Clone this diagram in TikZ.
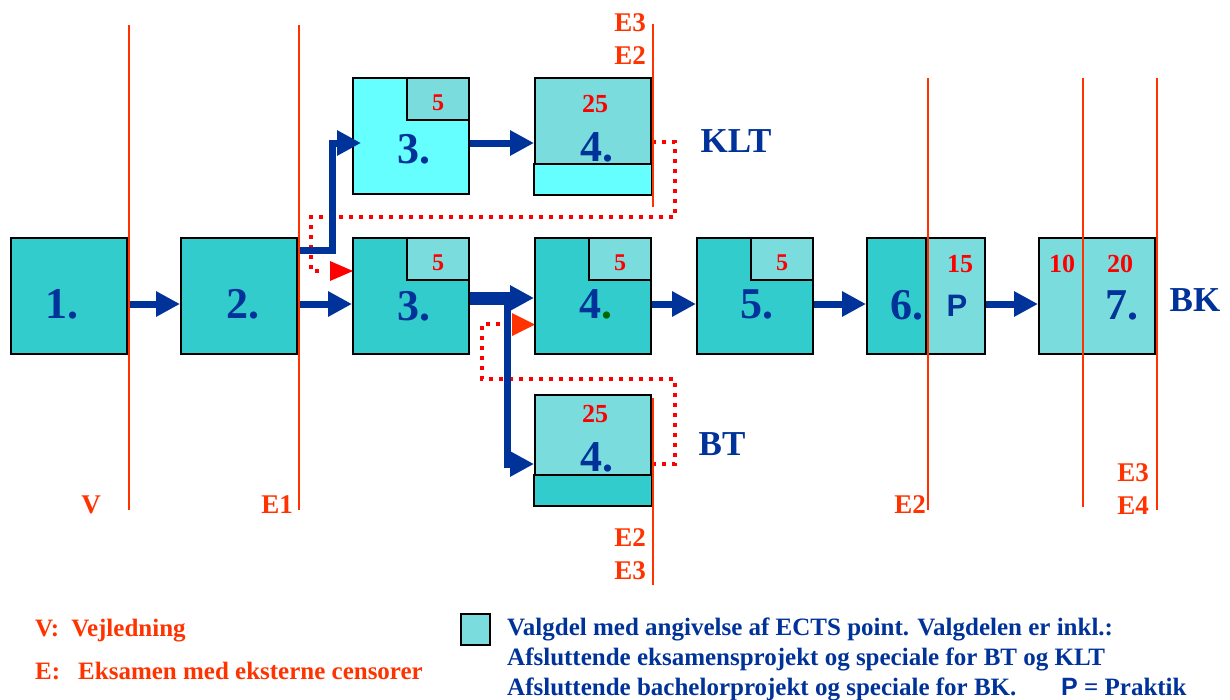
\documentclass[tikz,border=0pt]{standalone}
\usepackage{fontspec}
\setmainfont{Liberation Serif}
\newfontfamily\sfb{Liberation Sans}
\usetikzlibrary{arrows.meta}
\definecolor{dteal}{HTML}{33CCCC}
\definecolor{lteal}{HTML}{7ADCDC}
\definecolor{cyanb}{HTML}{66FFFF}
\definecolor{dblue}{HTML}{003399}
\definecolor{ored}{HTML}{FF3300}
\definecolor{pred}{HTML}{FF0000}
\definecolor{dgreen}{HTML}{006600}
\begin{document}
\begin{tikzpicture}[x=1pt,y=-1pt,
 box/.style={draw=black,line width=2pt,inner sep=0pt,minimum width=116pt,minimum height=116pt},
 sbox/.style={draw=black,line width=2pt,inner sep=0pt,minimum width=62pt,minimum height=42pt,fill=lteal},
 big/.style={text=dblue,font=\fontsize{44}{44}\selectfont\bfseries,inner sep=0pt},
 spts/.style={text=pred,font=\fontsize{24}{24}\selectfont\bfseries,inner sep=0pt},
 pts/.style={text=pred,font=\fontsize{26}{26}\selectfont\bfseries,inner sep=0pt},
 elab/.style={text=ored,font=\fontsize{27}{27}\selectfont\bfseries,inner sep=0pt},
 tlab/.style={text=dblue,font=\fontsize{35}{35}\selectfont\bfseries,inner sep=0pt},
 vline/.style={draw=ored,line width=1.5pt},
 arr/.style={draw=dblue,line width=7pt,-{Triangle[length=24pt,width=24pt]}},
 reddots/.style={draw=pred,line width=3.5pt,dash pattern=on 4pt off 6pt},
 legblue/.style={text=dblue,font=\fontsize{25}{25}\selectfont\bfseries,inner sep=0pt,anchor=base west},
 legred/.style={text=ored,font=\fontsize{25}{25}\selectfont\bfseries,inner sep=0pt,anchor=base west},
]
\useasboundingbox (0,0) rectangle (1230,699);

% red dotted paths (behind)
\draw[reddots] (652,142) -- (675,142) -- (675,217) -- (311,217) -- (311,271) -- (322,271);
\fill[pred] (330,261) -- (353,271) -- (330,281) -- cycle;
\draw[reddots] (652,464) -- (675,464) -- (675,379) -- (482,379) -- (482,324) -- (505,324);
\fill[ored] (512,313) -- (535,324.5) -- (512,336) -- cycle;

% main row boxes
\node[box,fill=dteal] (b1) at (69,296) {};
\node[box,fill=dteal] (b2) at (239,296) {};
\node[box,fill=dteal] (b3) at (411,296) {};
\node[sbox,anchor=north east] (s3) at (b3.north east) {};
\node[box,fill=dteal] (b4) at (593,296) {};
\node[sbox,anchor=north east] (s4) at (b4.north east) {};
\node[box,fill=dteal] (b5) at (755,296) {};
\node[sbox,anchor=north east] (s5) at (b5.north east) {};
\node[box,fill=dteal,minimum width=59pt] (b6) at (896.5,296) {};
\node[box,fill=lteal,minimum width=57pt,anchor=west] (bp) at (b6.east) {};
\node[box,fill=lteal] (b7) at (1097,296) {};

% top row
\node[box,fill=cyanb] (t3) at (411,136) {};
\node[sbox,anchor=north east] (st3) at (t3.north east) {};
\node[box,fill=lteal] (t4) at (593,136) {};
\draw[black,line width=2pt,fill=cyanb] (t4.south west) rectangle ([yshift=31pt]t4.south east);

% bottom box
\node[box,fill=lteal,minimum height=110pt] (b4b) at (593,450) {};
\draw[black,line width=2pt,fill=dteal] (b4b.south west) rectangle ([yshift=31pt]b4b.south east);

% box labels
\node[big] at (62,304) {1.};
\node[big] at (243,304) {2.};
\node[big] at (414,306) {3.};
\node[big] at (596,304) {4{\color{dgreen}.}};
\node[big] at (757,304) {5.};
\node[big] at (907,305) {6.};
\node[text=dblue,font=\fontsize{31}{31}\selectfont\sfb\bfseries,inner sep=0pt] at (957,306) {P};
\node[big] at (1122,305) {7.};
\node[big] at (414,149) {3.};
\node[big] at (597,147) {4.};
\node[big] at (597,457) {4.};

\node[spts] at ([yshift=-4pt]st3.center) {5};
\node[spts] at ([yshift=-4pt]s3.center) {5};
\node[spts] at ([yshift=-4pt]s4.center) {5};
\node[spts] at ([yshift=-4pt]s5.center) {5};
\node[pts] at (595,104) {25};
\node[pts] at (595,414) {25};
\node[pts] at (960,264) {15};
\node[pts] at (1062,264) {10};
\node[pts] at (1120,264) {20};

% blue connectors
\draw[arr] ([yshift=-8pt]b1.east) -- ([yshift=-8pt]b2.west);
\draw[arr] ([yshift=-8pt]b2.east) -- ([yshift=-8pt]b3.west);
\coordinate (k1) at (332,250);
\draw[arr] ([yshift=46pt]b2.east) -- (k1) |- ([yshift=-7pt,xshift=9pt]t3.west);
\draw[arr] ([yshift=-7pt]t3.east) -- ([yshift=-7pt]t4.west);
\coordinate (k2) at (507,298);
\draw[arr,line width=13pt] ([yshift=-2pt]b3.east) -- ([yshift=-2pt]b4.west);
\draw[arr,line width=7pt] (k2) |- ([yshift=-14pt]b4b.west);
\draw[arr] ([yshift=-8pt]b4.east) -- ([yshift=-8pt]b5.west);
\draw[arr] ([yshift=-8pt]b5.east) -- ([yshift=-8pt]b6.west);
\draw[arr] ([yshift=-8pt]bp.east) -- ([yshift=-8pt]b7.west);

% red vertical lines
\draw[vline] (129,25) -- (129,510);
\draw[vline] (299,25) -- (299,510);
\draw[vline] (653,24) -- (653,207);
\draw[vline] (653,398) -- (653,585);
\draw[vline] (928,78) -- (928,510);
\draw[vline] (1083,78) -- (1083,507);
\draw[vline] (1157,78) -- (1157,510);

% edge labels
\node[elab] at (630,23) {E3};
\node[elab] at (630,56) {E2};
\node[elab] at (630,538) {E2};
\node[elab] at (630,571) {E3};
\node[elab] at (91,505) {V};
\node[elab] at (277,505) {E1};
\node[elab] at (910,505) {E2};
\node[elab] at (1133,473) {E3};
\node[elab] at (1133,506) {E4};

% track labels
\node[tlab] at (736,141) {KLT};
\node[tlab] at (722,444) {BT};
\node[tlab] at (1195,300) {BK};

% legend
\node[legred] at (35,636) {V:\hspace{12pt}Vejledning};
\node[legred] at (35,679) {E:\hspace{18pt}Eksamen med eksterne censorer};
\node[draw=black,line width=2pt,fill=lteal,minimum width=29pt,minimum height=31pt,inner sep=0pt] (lg) at (475.5,629.5) {};
\node[legblue] at (507,635) {Valgdel med angivelse af ECTS point. Valgdelen er inkl.:};
\node[legblue] at (507,665) {Afsluttende eksamensprojekt og speciale for BT og KLT};
\node[legblue] at (507,695) {Afsluttende bachelorprojekt og speciale for BK.};
\node[legblue] at (1061,695) {{\sfb P} = Praktik};
\end{tikzpicture}
\end{document}
